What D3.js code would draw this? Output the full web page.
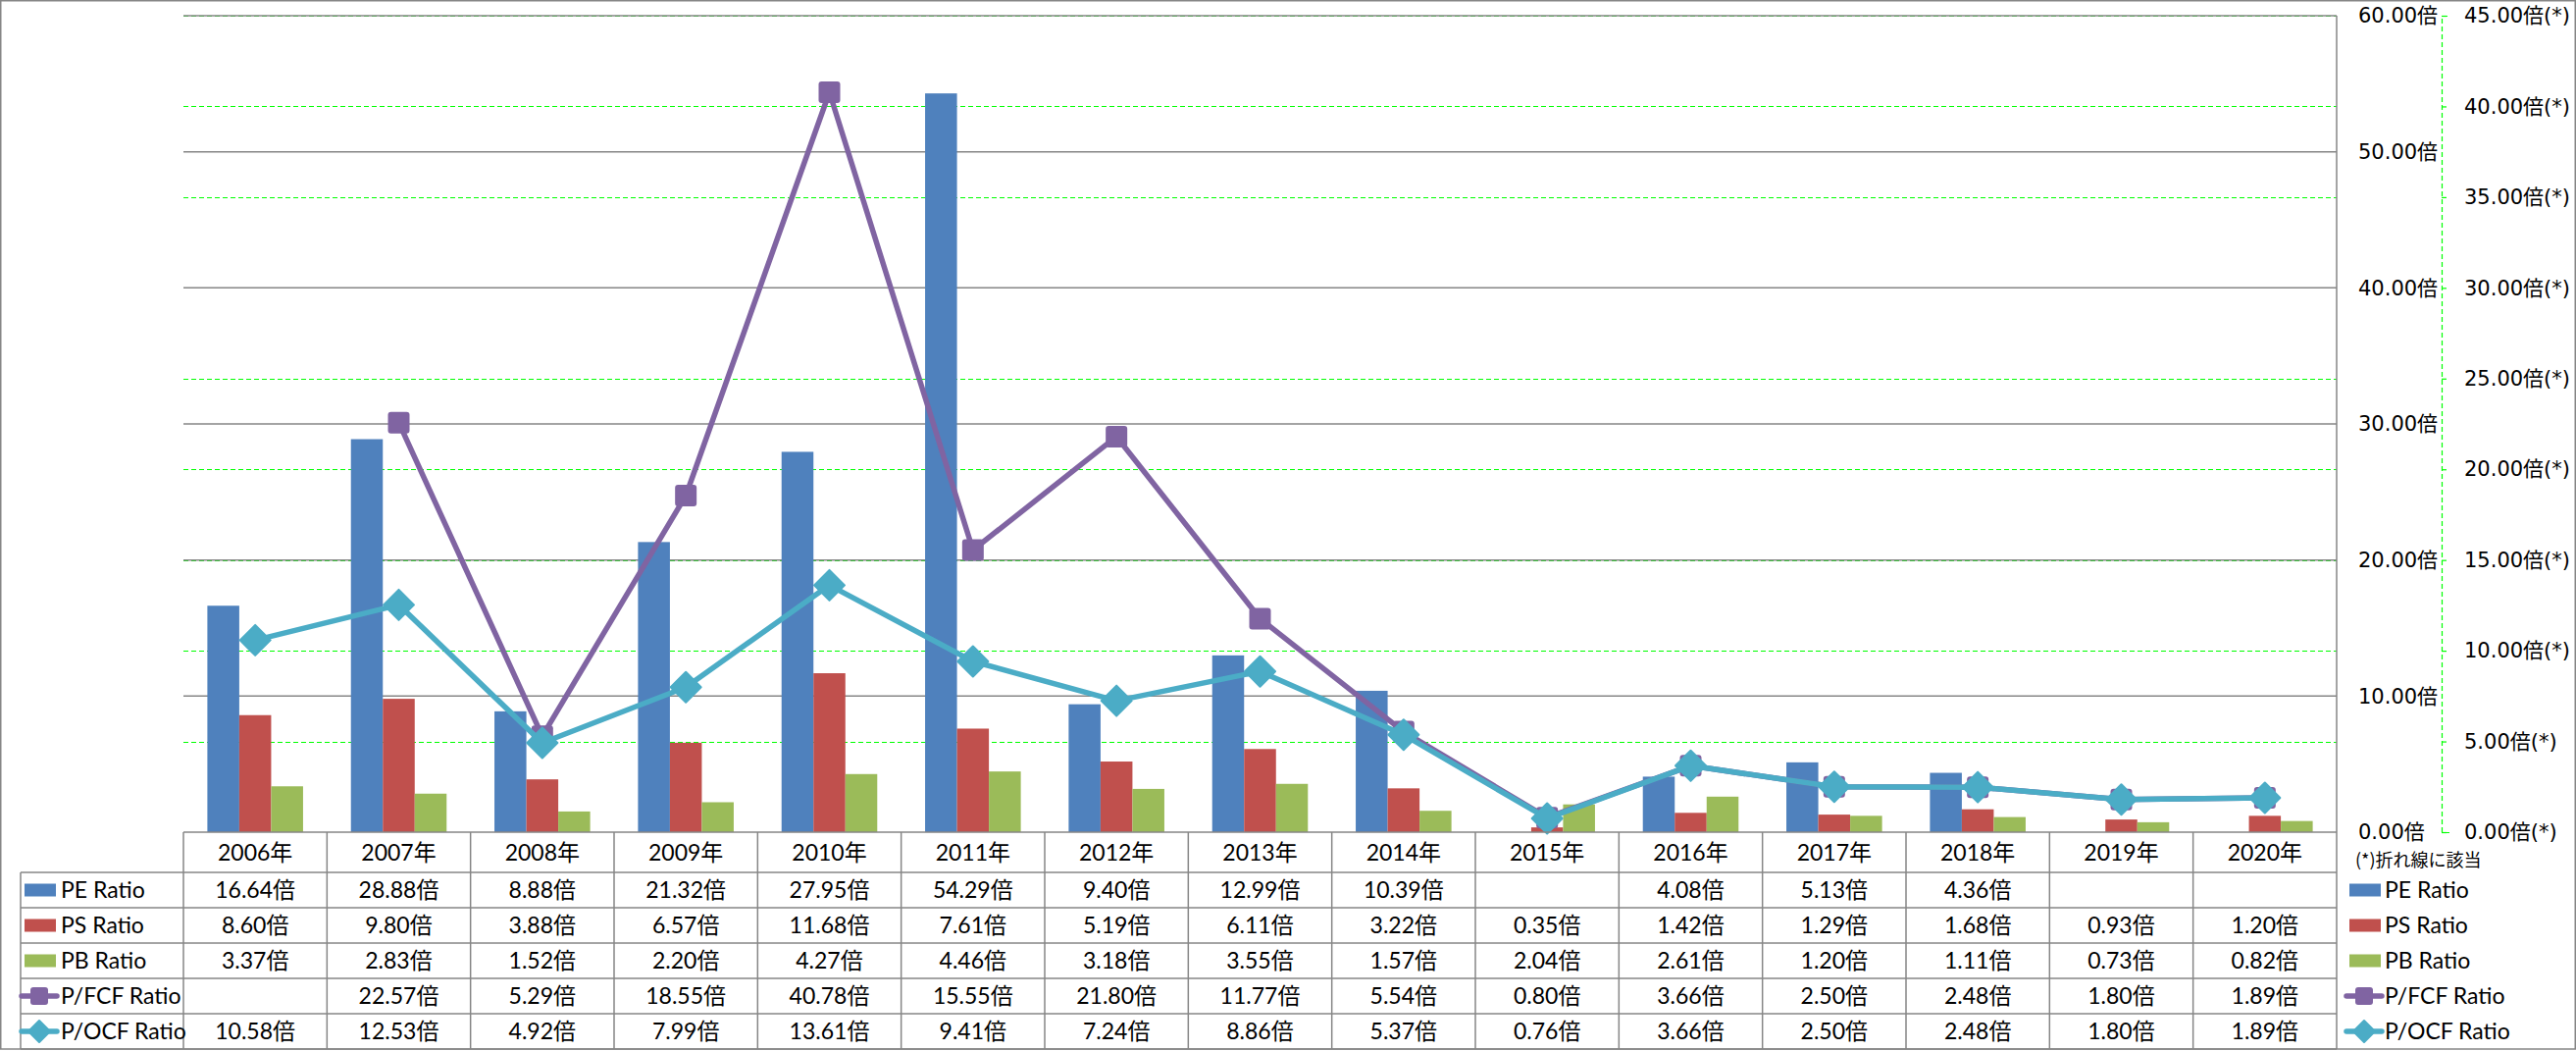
<!DOCTYPE html>
<html><head><meta charset="utf-8">
<script src="https://cdn.jsdelivr.net/npm/d3@7"></script>
<style>body{margin:0;background:#fff} svg{display:block}</style>
</head><body>
<svg id="chart" width="2626" height="1071"></svg>
<script>
const years = ["2006年","2007年","2008年","2009年","2010年","2011年","2012年","2013年","2014年","2015年","2016年","2017年","2018年","2019年","2020年"];
const peRatio   = [16.64, 28.88, 8.88, 21.32, 27.95, 54.29, 9.40, 12.99, 10.39, null, 4.08, 5.13, 4.36, null, null];
const psRatio   = [8.60, 9.80, 3.88, 6.57, 11.68, 7.61, 5.19, 6.11, 3.22, 0.35, 1.42, 1.29, 1.68, 0.93, 1.20];
const pbRatio   = [3.37, 2.83, 1.52, 2.20, 4.27, 4.46, 3.18, 3.55, 1.57, 2.04, 2.61, 1.20, 1.11, 0.73, 0.82];
const pfcfRatio = [null, 22.57, 5.29, 18.55, 40.78, 15.55, 21.80, 11.77, 5.54, 0.80, 3.66, 2.50, 2.48, 1.80, 1.89];
const pocfRatio = [10.58, 12.53, 4.92, 7.99, 13.61, 9.41, 7.24, 8.86, 5.37, 0.76, 3.66, 2.50, 2.48, 1.80, 1.89];
const leftTicks  = [0, 10, 20, 30, 40, 50, 60];
const rightTicks = [0, 5, 10, 15, 20, 25, 30, 35, 40, 45];
const footnote = "(*)折れ線に該当";

const barSeries = [
  {name:"PE Ratio", values:peRatio, color:"#4F81BD"},
  {name:"PS Ratio", values:psRatio, color:"#C0504D"},
  {name:"PB Ratio", values:pbRatio, color:"#9BBB59"}
];
const lineSeries = [
  {name:"P/FCF Ratio", values:pfcfRatio, color:"#8064A2", marker:"square"},
  {name:"P/OCF Ratio", values:pocfRatio, color:"#4BACC6", marker:"diamond"}
];
const allSeries = barSeries.concat(lineSeries);

const W = 2626, H = 1071;
const plotL = 187, plotR = 2382, plotT = 16, plotB = 848;
const rowH = 36, headH = 41, legL = 21;
const gray = "#868686";
const textFont = "Lato, 'Noto Sans CJK JP', sans-serif";
const axisFont = "'DejaVu Sans', 'Noto Sans CJK JP', sans-serif";
const tfs = 23;

const svg = d3.select("#chart");
const x = d3.scaleBand().domain(years).range([plotL, plotR]).padding(0);
const xSub = d3.scaleBand().domain(barSeries.map(d=>d.name)).range([0, x.bandwidth()]).paddingInner(0).paddingOuter(0.75);
const yL = d3.scaleLinear().domain([0, 60]).range([plotB, plotT]);
const yR = d3.scaleLinear().domain([0, 45]).range([plotB, plotT]);

// outer border
svg.append("rect").attr("x",0.75).attr("y",0.75).attr("width",W-1.5).attr("height",1069-0.75)
  .attr("fill","none").attr("stroke",gray).attr("stroke-width",1.5);

// green dashed gridlines (secondary)
svg.append("g").selectAll("line").data(rightTicks.filter(d=>d>0)).join("line")
  .attr("x1",plotL).attr("x2",plotR).attr("y1",d=>Math.round(yR(d))+0.5).attr("y2",d=>Math.round(yR(d))+0.5)
  .attr("stroke","#00FF00").attr("stroke-width",1.2).attr("stroke-dasharray","5,3");
// gray gridlines (primary)
svg.append("g").selectAll("line").data(leftTicks.filter(d=>d>0)).join("line")
  .attr("x1",plotL).attr("x2",plotR).attr("y1",d=>yL(d)).attr("y2",d=>yL(d))
  .attr("stroke",gray).attr("stroke-width",1.5);

// bars
barSeries.forEach(s=>{
  svg.append("g").selectAll("rect").data(s.values.map((v,i)=>({v, y:years[i]})).filter(d=>d.v!=null)).join("rect")
    .attr("x",d=>x(d.y)+xSub(s.name)).attr("width",xSub.bandwidth())
    .attr("y",d=>yL(d.v)).attr("height",d=>plotB-yL(d.v)).attr("fill",s.color);
});

// lines + markers
function drawMarker(g, type, color, size){
  if(type==="square"){
    g.append("rect").attr("x",-size/2).attr("y",-size/2).attr("width",size).attr("height",size)
      .attr("rx",3).attr("fill",color);
  } else {
    const r = size/2;
    g.append("path").attr("d",`M0,${-r}L${r},0L0,${r}L${-r},0Z`).attr("fill",color)
      .attr("stroke",color).attr("stroke-width",2).attr("stroke-linejoin","round");
  }
}
lineSeries.forEach(s=>{
  const pts = s.values.map((v,i)=>({v, cx:x(years[i])+x.bandwidth()/2}));
  const line = d3.line().defined(d=>d.v!=null).x(d=>d.cx).y(d=>yR(d.v));
  svg.append("path").attr("d",line(pts)).attr("fill","none").attr("stroke",s.color)
    .attr("stroke-width",5.5).attr("stroke-linejoin","round").attr("stroke-linecap","round");
  pts.filter(d=>d.v!=null).forEach(d=>{
    const g = svg.append("g").attr("transform",`translate(${d.cx},${yR(d.v)})`);
    drawMarker(g, s.marker, s.color, s.marker==="square"?22:31);
  });
});

// primary axis line (right side of plot)
svg.append("line").attr("x1",plotR).attr("x2",plotR).attr("y1",plotT).attr("y2",plotB+headH+rowH*5)
  .attr("stroke",gray).attr("stroke-width",1.5);

// primary axis labels
const axL = d3.axisRight(yL).tickValues(leftTicks).tickSize(0).tickPadding(22)
  .tickFormat(d=>d.toFixed(2)+"倍");
const gL = svg.append("g").attr("transform",`translate(${plotR},0)`).call(axL);
gL.select(".domain").remove();
gL.selectAll("text").attr("font-family",axisFont).attr("font-size",21).attr("fill","#000");

// secondary axis
const axisRX = 2489;
const axR = d3.axisRight(yR).tickValues(rightTicks).tickSize(8).tickPadding(15)
  .tickFormat(d=>d.toFixed(2)+"倍(*)");
const gR = svg.append("g").attr("transform",`translate(${axisRX},0)`).call(axR);
gR.select(".domain").attr("stroke","#00FF00").attr("stroke-dasharray","5,3").attr("stroke-width",1.2);
gR.selectAll(".tick line").attr("stroke","#00FF00").attr("stroke-width",1.2).attr("stroke-dasharray","5,3");
gR.selectAll("text").attr("font-family",axisFont).attr("font-size",21).attr("fill","#000");

// data table
const tbl = svg.append("g");
const tableB = plotB + headH + rowH*5;
tbl.append("line").attr("x1",plotL).attr("x2",plotR).attr("y1",plotB).attr("y2",plotB).attr("stroke",gray).attr("stroke-width",1.5);
tbl.append("line").attr("x1",legL).attr("x2",plotR).attr("y1",plotB+headH).attr("y2",plotB+headH).attr("stroke",gray).attr("stroke-width",1.5);
allSeries.forEach((s,i)=>{
  const yy = plotB+headH+rowH*(i+1);
  tbl.append("line").attr("x1",legL).attr("x2",plotR).attr("y1",yy).attr("y2",yy).attr("stroke",gray).attr("stroke-width",1.5);
});
tbl.selectAll("line.v").data(years).join("line").attr("class","v")
  .attr("x1",d=>x(d)).attr("x2",d=>x(d)).attr("y1",plotB).attr("y2",tableB)
  .attr("stroke",gray).attr("stroke-width",1.5);
tbl.append("line").attr("x1",legL).attr("x2",legL).attr("y1",plotB+headH).attr("y2",tableB).attr("stroke",gray).attr("stroke-width",1.5);

tbl.selectAll("text.yr").data(years).join("text").attr("class","yr")
  .attr("x",d=>x(d)+x.bandwidth()/2).attr("y",plotB+headH/2).attr("dy","0.36em")
  .attr("text-anchor","middle").attr("font-family",textFont).attr("font-size",tfs).text(d=>d);

function drawKey(parent, s, x0, x1, cy){
  if(s.marker){
    parent.append("line").attr("x1",x0-3).attr("x2",x1+1).attr("y1",cy).attr("y2",cy)
      .attr("stroke",s.color).attr("stroke-width",5.5).attr("stroke-linecap","round");
    const g = parent.append("g").attr("transform",`translate(${(x0+x1)/2-1},${cy})`);
    drawMarker(g, s.marker, s.color, s.marker==="square"?18:22);
  } else {
    parent.append("rect").attr("x",x0).attr("y",cy-6.5).attr("width",x1-x0).attr("height",13).attr("fill",s.color);
  }
}

allSeries.forEach((s,i)=>{
  const cy = plotB+headH+rowH*i+rowH/2;
  tbl.append("g").selectAll("text").data(s.values.map((v,j)=>({v,y:years[j]}))).join("text")
    .attr("x",d=>x(d.y)+x.bandwidth()/2).attr("y",cy).attr("dy","0.36em")
    .attr("text-anchor","middle").attr("font-family",textFont).attr("font-size",tfs)
    .text(d=>d.v==null?"":d.v.toFixed(2)+"倍");
  drawKey(tbl, s, 25, 57, cy);
  tbl.append("text").attr("x",62).attr("y",cy).attr("dy","0.36em")
    .attr("font-family",textFont).attr("font-size",tfs).text(s.name);
  drawKey(svg, s, 2395, 2427, cy);
  svg.append("text").attr("x",2431).attr("y",cy).attr("dy","0.36em")
    .attr("font-family",textFont).attr("font-size",tfs).text(s.name);
});

// footnote
svg.append("text").attr("x",2401).attr("y",877).attr("dy","0.36em")
  .attr("font-family","'Noto Sans CJK JP', sans-serif").attr("font-size",18).text(footnote);
</script>
</body></html>
